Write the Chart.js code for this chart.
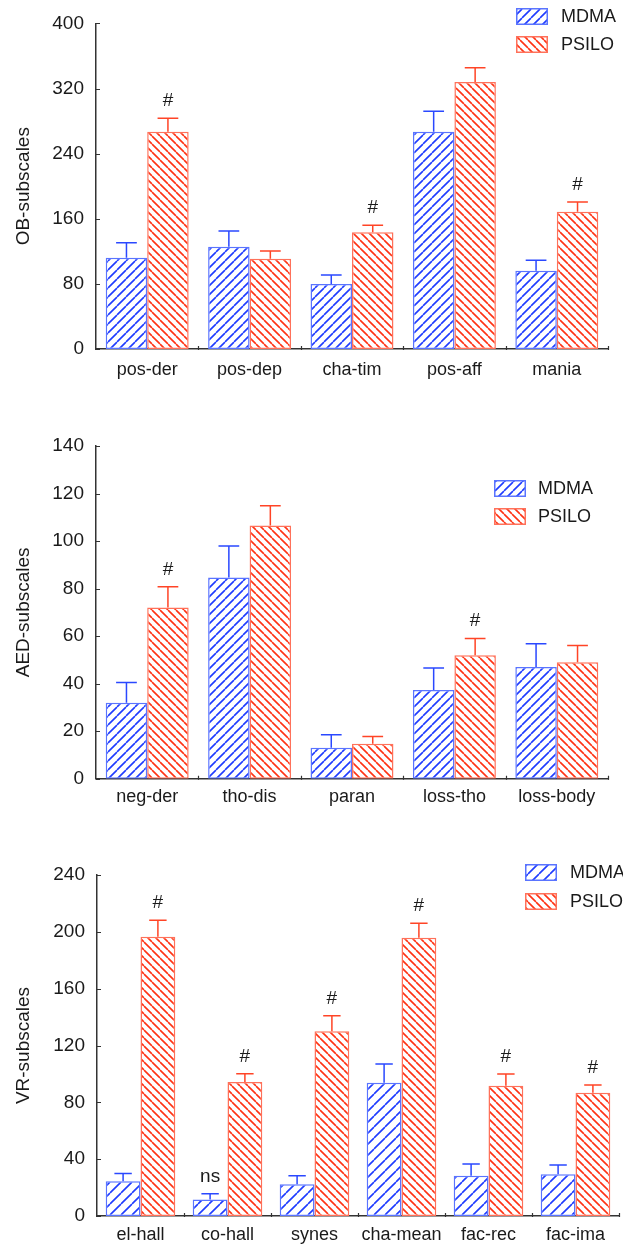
<!DOCTYPE html>
<html>
<head>
<meta charset="utf-8">
<script src="https://cdn.jsdelivr.net/npm/chart.js@4"></script>
<style>
  html, body { margin:0; padding:0; background:#fff; }
  body { width:623px; height:1247px; position:relative; overflow:hidden; }
  canvas { position:absolute; left:0; }
</style>
</head>
<body>
<canvas id="c1" width="623" height="400" style="top:0px;width:623px;height:400px"></canvas>
<canvas id="c2" width="623" height="410" style="top:410px;width:623px;height:410px"></canvas>
<canvas id="c3" width="623" height="417" style="top:830px;width:623px;height:417px"></canvas>
<script>
// ---------- DATA ----------
const seriesNames = ['MDMA', 'PSILO'];

const obCategories = ['pos-der', 'pos-dep', 'cha-tim', 'pos-aff', 'mania'];
const obMdma = [112, 125.5, 80, 267, 96];
const obMdmaErr = [18.5, 19.5, 11, 25, 13];
const obPsilo = [267, 111, 143.5, 328, 168.5];
const obPsiloErr = [16.5, 9.5, 8.5, 17.5, 12];
const obMdmaMarks = ['', '', '', '', ''];
const obPsiloMarks = ['#', '', '#', '', '#'];
const obTicks = [0, 80, 160, 240, 320, 400];

const aedCategories = ['neg-der', 'tho-dis', 'paran', 'loss-tho', 'loss-body'];
const aedMdma = [32, 84.7, 13, 37.3, 47];
const aedMdmaErr = [8.5, 13.2, 5.5, 9.3, 9.8];
const aedPsilo = [72, 106.5, 14.7, 52, 49];
const aedPsiloErr = [8.8, 8.4, 3.1, 7, 7.1];
const aedMdmaMarks = ['', '', '', '', ''];
const aedPsiloMarks = ['#', '', '', '#', ''];
const aedTicks = [0, 20, 40, 60, 80, 100, 120, 140];

const vrCategories = ['el-hall', 'co-hall', 'synes', 'cha-mean', 'fac-rec', 'fac-ima'];
const vrMdma = [24.4, 11.7, 22.3, 93.8, 28.4, 29.3];
const vrMdmaErr = [5.6, 4, 6.1, 13.2, 8.2, 6.6];
const vrPsilo = [196.6, 94.3, 130, 195.9, 91.7, 86.8];
const vrPsiloErr = [11.5, 5.9, 11, 10.1, 8.2, 5.4];
const vrMdmaMarks = ['', 'ns', '', '', '', ''];
const vrPsiloMarks = ['#', '#', '#', '#', '#', '#'];
const vrTicks = [0, 40, 80, 120, 160, 200, 240];

// ---------- STYLE ----------
const FONT = "'Liberation Sans', Arial, Helvetica, sans-serif";
const TEXT = '#1a1a1a';
const BLUE_LINE = '#1f3cff', BLUE_BORDER = '#5a74ff', BLUE_ERR = '#2a48ff';
const RED_LINE = '#ff3314', RED_BORDER = '#ff715a', RED_ERR = '#ff4426';

Chart.defaults.font.family = FONT;
Chart.defaults.font.size = 18;
Chart.defaults.color = TEXT;

function makePattern(color, period, dir, lw) {
  const c = document.createElement('canvas');
  c.width = period; c.height = period;
  const g = c.getContext('2d');
  g.fillStyle = '#fff'; g.fillRect(0, 0, period, period);
  g.strokeStyle = color; g.lineWidth = lw;
  g.beginPath();
  for (const o of [-period, 0, period]) {
    if (dir === '/') { g.moveTo(o, period); g.lineTo(o + period, 0); }
    else { g.moveTo(o, 0); g.lineTo(o + period, period); }
  }
  g.stroke();
  return g.createPattern(c, 'repeat');
}

const errorPlugin = {
  id: 'errbars',
  afterDatasetsDraw(chart) {
    const ctx = chart.ctx, ys = chart.scales.y;
    const cfg = chart.options.plugins.errbars;
    chart.data.datasets.forEach((ds, i) => {
      const meta = chart.getDatasetMeta(i);
      meta.data.forEach((bar, j) => {
        const top = ys.getPixelForValue(ds.data[j] + ds.err[j]);
        const w = bar.width * 0.25;
        ctx.save();
        ctx.strokeStyle = ds.errColor; ctx.lineWidth = 1.5;
        ctx.beginPath();
        ctx.moveTo(bar.x, bar.y); ctx.lineTo(bar.x, top);
        ctx.moveTo(bar.x - w, top); ctx.lineTo(bar.x + w, top);
        ctx.stroke();
        const m = ds.marks[j];
        if (m) {
          ctx.fillStyle = TEXT; ctx.font = '19px ' + FONT;
          ctx.textAlign = 'center'; ctx.textBaseline = 'alphabetic';
          ctx.fillText(m, bar.x, top - cfg.markGap);
        }
        ctx.restore();
      });
    });
  },
  afterDraw(chart) {
    const ctx = chart.ctx, a = chart.chartArea, ys = chart.scales.y;
    ctx.save();
    ctx.strokeStyle = '#333'; ctx.lineWidth = 1.2;
    ctx.beginPath();
    ys.ticks.forEach(t => {
      const y = Math.round(ys.getPixelForValue(t.value)) + 0.5;
      ctx.moveTo(a.left, y); ctx.lineTo(a.left + 4, y);
    });
    const n = chart.data.labels.length;
    for (let i = 1; i <= n; i++) {
      const x = Math.round(a.left + i * (a.right - a.left) / n) + 0.5;
      ctx.moveTo(x, a.bottom - 3); ctx.lineTo(x, a.bottom + 1);
    }
    ctx.stroke();
    // legend
    const L = chart.options.plugins.customLegend;
    chart.data.datasets.forEach((ds, i) => {
      const y = L.y + i * L.gap;
      ctx.fillStyle = ds.backgroundColor;
      ctx.fillRect(L.x, y, L.w, L.h);
      ctx.strokeStyle = ds.borderColor; ctx.lineWidth = 1.5;
      ctx.strokeRect(L.x + 0.75, y + 0.75, L.w - 1.5, L.h - 1.5);
      ctx.fillStyle = TEXT; ctx.font = '18px ' + FONT;
      ctx.textAlign = 'left'; ctx.textBaseline = 'middle';
      ctx.fillText(ds.label, L.textX, y + L.h / 2 + 1);
    });
    ctx.restore();
  }
};

function build(id, o) {
  const ctx = document.getElementById(id).getContext('2d');
  const blue = makePattern(BLUE_LINE, o.bluePeriod, '/', 1.6);
  const red = makePattern(RED_LINE, o.redPeriod, '\\', 1.6);
  return new Chart(ctx, {
    type: 'bar',
    data: {
      labels: o.labels,
      datasets: [
        { label: seriesNames[0], data: o.mdma, err: o.mdmaErr, marks: o.mdmaMarks,
          backgroundColor: blue, borderColor: BLUE_BORDER, errColor: BLUE_ERR,
          borderWidth: 1.5, borderSkipped: false,
          categoryPercentage: o.catPct, barPercentage: 1 },
        { label: seriesNames[1], data: o.psilo, err: o.psiloErr, marks: o.psiloMarks,
          backgroundColor: red, borderColor: RED_BORDER, errColor: RED_ERR,
          borderWidth: 1.5, borderSkipped: false,
          categoryPercentage: o.catPct, barPercentage: 1 }
      ]
    },
    options: {
      responsive: false, animation: false, devicePixelRatio: 1,
      layout: { padding: { left: 0, right: 623 - o.right, top: o.top, bottom: 0 } },
      plugins: {
        legend: { display: false }, tooltip: { enabled: false },
        errbars: { markGap: 12 },
        customLegend: o.legend
      },
      scales: {
        x: {
          grid: { display: false, drawTicks: false },
          border: { display: true, color: '#333', width: 1.5 },
          ticks: { padding: o.xPad, color: TEXT, font: { size: 18 } },
          afterFit(s) { s.height = o.xHeight; }
        },
        y: {
          min: o.ticks[0], max: o.ticks[o.ticks.length - 1],
          afterBuildTicks(s) { s.ticks = o.ticks.map(v => ({ value: v })); },
          grid: { display: false, drawTicks: false },
          border: { display: true, color: '#333', width: 1.5 },
          ticks: { padding: 12, color: TEXT, font: { size: 19 } },
          title: { display: true, text: o.title, color: TEXT, font: { size: 19 }, padding: { top: 12, bottom: 0 } },
          afterFit(s) { s.width = o.left; }
        }
      }
    },
    plugins: [errorPlugin]
  });
}

build('c1', {
  labels: obCategories, mdma: obMdma, mdmaErr: obMdmaErr, psilo: obPsilo, psiloErr: obPsiloErr,
  mdmaMarks: obMdmaMarks, psiloMarks: obPsiloMarks, ticks: obTicks, title: 'OB-subscales',
  left: 96, right: 608, top: 17, xHeight: 51, xPad: 10, catPct: 0.81,
  bluePeriod: 9, redPeriod: 8,
  legend: { x: 516, y: 8, gap: 28, w: 32, h: 17, textX: 561 }
});
build('c2', {
  labels: aedCategories, mdma: aedMdma, mdmaErr: aedMdmaErr, psilo: aedPsilo, psiloErr: aedPsiloErr,
  mdmaMarks: aedMdmaMarks, psiloMarks: aedPsiloMarks, ticks: aedTicks, title: 'AED-subscales',
  left: 96, right: 608, top: 36, xHeight: 41.3, xPad: 8, catPct: 0.81,
  bluePeriod: 9, redPeriod: 8,
  legend: { x: 494, y: 70, gap: 28, w: 32, h: 17, textX: 538 }
});
build('c3', {
  labels: vrCategories, mdma: vrMdma, mdmaErr: vrMdmaErr, psilo: vrPsilo, psiloErr: vrPsiloErr,
  mdmaMarks: vrMdmaMarks, psiloMarks: vrPsiloMarks, ticks: vrTicks, title: 'VR-subscales',
  left: 97, right: 619, top: 45, xHeight: 31, xPad: 8, catPct: 0.8,
  bluePeriod: 11, redPeriod: 8,
  legend: { x: 525, y: 34, gap: 29, w: 32, h: 17, textX: 570 }
});
</script>
</body>
</html>
